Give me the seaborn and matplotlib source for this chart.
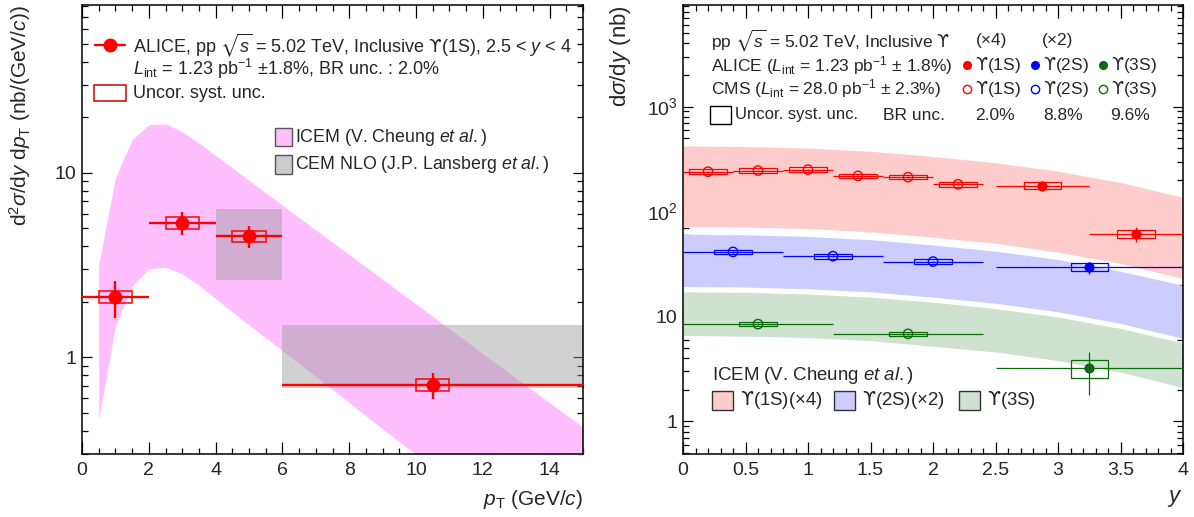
import math
import matplotlib
matplotlib.use("Agg")
import matplotlib.pyplot as plt
from matplotlib.patches import Rectangle
from matplotlib.lines import Line2D
from matplotlib.ticker import LogLocator, MultipleLocator, NullFormatter, FuncFormatter
import seaborn as sns

sns.set_theme(style="ticks")
plt.rcParams["font.family"] = ["Liberation Sans", "DejaVu Sans"]
plt.rcParams["mathtext.fontset"] = "custom"
plt.rcParams["mathtext.rm"] = "Liberation Sans"
plt.rcParams["mathtext.it"] = "Liberation Sans:italic"
plt.rcParams["mathtext.bf"] = "Liberation Sans:bold"
plt.rcParams["mathtext.sf"] = "DejaVu Sans"
plt.rcParams["mathtext.fallback"] = "stixsans"
plt.rcParams["axes.edgecolor"] = "black"
plt.rcParams["axes.linewidth"] = 1.1

# ------------------------------------------------------------
# Left panel: ALICE Upsilon(1S) vs pT
# ------------------------------------------------------------
pt_lo = [0, 2, 4, 6]
pt_hi = [2, 4, 6, 15]
pt_c = [1, 3, 5, 10.5]
xs_pt = [2.12, 5.35, 4.55, 0.71]
stat_pt_hi = [2.58, 6.10, 5.17, 0.826]
stat_pt_lo = [1.64, 4.60, 3.92, 0.598]
syst_pt_hi = [2.28, 5.74, 4.86, 0.767]
syst_pt_lo = [1.96, 4.96, 4.22, 0.660]

# ICEM band (V. Cheung et al.)
icem_pt = [0.5, 1.0, 1.5, 2.0, 2.5, 3.0, 3.5, 5, 7, 9, 11, 13, 15]
icem_pt_hi = [3.18, 9.4, 15.1, 18.2, 18.4, 16.7, 14.5, 9.1, 4.9, 2.65, 1.43, 0.77, 0.42]
icem_pt_lo = [0.46, 1.48, 2.43, 3.02, 3.07, 2.84, 2.46, 1.50, 0.79, 0.41, 0.217, 0.114, 0.06]

# CEM NLO boxes (J.P. Lansberg et al.)
cem_lo_edge = [4, 6]
cem_hi_edge = [6, 15]
cem_lo = [2.61, 0.682]
cem_hi = [6.39, 1.49]

# ------------------------------------------------------------
# Right panel: dsigma/dy for Upsilon(1S,2S,3S)
# ------------------------------------------------------------
cms1_y = [0.2, 0.6, 1.0, 1.4, 1.8, 2.2]
cms1_v = [240, 246, 251, 219, 213, 182]
cms2_y = [0.4, 1.2, 2.0]
cms2_v = [41.3, 37.6, 33.4]
cms3_y = [0.6, 1.8]
cms3_v = [8.47, 6.84]

alice1_y = [2.875, 3.625]
alice1_v = [177, 61.3]
alice1_stat_hi = [184, 71.2]
alice1_stat_lo = [170, 51.4]
alice1_syst_hi = [190, 67.0]
alice1_syst_lo = [164, 55.8]
alice2_y = [3.25]
alice2_v = [29.7]
alice2_stat_hi = [33.4]
alice2_stat_lo = [25.4]
alice2_syst_hi = [32.3]
alice2_syst_lo = [27.1]
alice3_y = [3.25]
alice3_v = [3.23]
alice3_stat_hi = [4.64]
alice3_stat_lo = [1.79]
alice3_syst_hi = [3.87]
alice3_syst_lo = [2.59]

# ICEM bands vs y
icem_y = [0, 0.5, 1.0, 1.5, 2.0, 2.5, 3.0, 3.5, 4.0]
icem1_hi = [422, 417, 403, 376, 335, 292, 243, 189, 137]
icem1_lo = [72, 71, 69, 64, 57, 50, 41, 32, 23]
icem2_hi = [61, 60, 58, 54, 48, 42, 35, 27, 19.8]
icem2_lo = [19.3, 19.1, 18.4, 17.2, 15.3, 13.4, 11.1, 8.6, 6.2]
icem3_hi = [17.2, 17.0, 16.4, 15.3, 13.7, 11.9, 9.9, 7.7, 5.6]
icem3_lo = [6.6, 6.5, 6.3, 5.9, 5.2, 4.6, 3.8, 2.95, 2.1]

RED = "#ff0000"
BLUE = "#0000ff"
GREEN = "#0b6b0b"
UPS = "$\\mathsf{\u03d2}$"


def style_axis(ax):
    ax.set_yscale("log")
    ax.tick_params(which="both", direction="in", top=True, right=True,
                   labelsize=14, color="black", width=0.9)
    ax.tick_params(axis="x", which="major", length=9, pad=6)
    ax.tick_params(axis="x", which="minor", length=4.5)
    ax.tick_params(axis="y", which="major", length=7.5, pad=4)
    ax.tick_params(axis="y", which="minor", length=4)
    ax.yaxis.set_major_locator(LogLocator(base=10))
    ax.yaxis.set_minor_locator(LogLocator(base=10, subs=range(2, 10)))
    ax.yaxis.set_minor_formatter(NullFormatter())


def draw_points(ax, x, v, xlo, xhi, slo, shi, blo, bhi, bw, color, filled,
                size, lw, box_lw):
    yerr = [[a - b for a, b in zip(v, slo)], [b - a for a, b in zip(v, shi)]]
    xerr = [[a - b for a, b in zip(x, xlo)], [b - a for a, b in zip(x, xhi)]]
    ax.errorbar(x, v, xerr=xerr, yerr=yerr, fmt="none", ecolor=color,
                elinewidth=lw, capsize=0, zorder=4)
    for xi, lo, hi in zip(x, blo, bhi):
        ax.add_patch(Rectangle((xi - bw, lo), 2 * bw, hi - lo, fill=False,
                               edgecolor=color, lw=box_lw, zorder=4))
    sns.scatterplot(x=x, y=v, ax=ax, s=size, marker="o",
                    color=color if filled else "none", edgecolor=color,
                    linewidth=1.0, zorder=5, legend=False)


fig = plt.figure(figsize=(11.94, 5.17), dpi=100)
axL = fig.add_axes([82 / 1194, 63 / 517, 501 / 1194, 449 / 517])
axR = fig.add_axes([683 / 1194, 63 / 517, 500 / 1194, 449 / 517])

# ---------------- left panel ----------------
style_axis(axL)
axL.fill_between(icem_pt, icem_pt_lo, icem_pt_hi, color="#ffbfff", lw=0, zorder=1)
for a, b, lo, hi in zip(cem_lo_edge, cem_hi_edge, cem_lo, cem_hi):
    axL.add_patch(Rectangle((a, lo), b - a, hi - lo, facecolor="#999999",
                            alpha=0.45, lw=0, zorder=2))
draw_points(axL, pt_c, xs_pt, pt_lo, pt_hi, stat_pt_lo, stat_pt_hi,
            syst_pt_lo, syst_pt_hi, 0.5, RED, True, 80, 1.7, 1.1)
axL.set_xlim(0, 15)
axL.set_ylim(0.30, 81)
axL.xaxis.set_major_locator(MultipleLocator(2))
axL.xaxis.set_minor_locator(MultipleLocator(0.5))
axL.yaxis.set_major_formatter(FuncFormatter(lambda v, p: f"{v:g}"))
axL.set_xlabel(r"$p_{\rm T}$ (GeV/$c$)", fontsize=15, loc="right")
axL.xaxis.set_label_coords(1.0, -0.075)
axL.set_ylabel(r"d$^{2}\sigma$/d$y$ d$p_{\rm T}$ (nb/(GeV/$c$))", fontsize=15, loc="top")
axL.yaxis.set_label_coords(-0.097, 1.0)

tL = axL.transAxes
fs = 13
axL.add_line(Line2D([0.026, 0.086], [0.911, 0.911], color=RED, lw=1.7, transform=tL))
axL.plot([0.056], [0.911], "o", color=RED, ms=9, transform=tL)
axL.text(0.102, 0.911, r"ALICE, pp $\sqrt{s}$ = 5.02 TeV, Inclusive " + UPS + r"(1S), 2.5 < $y$ < 4",
         transform=tL, fontsize=fs, va="center")
axL.text(0.102, 0.857, r"$L_{\rm int}$ = 1.23 pb$^{-1}$ $\pm$1.8%, BR unc. : 2.0%",
         transform=tL, fontsize=fs, va="center")
axL.add_patch(Rectangle((0.024, 0.786), 0.064, 0.036, fill=False, edgecolor="#cc0000",
                        lw=1.1, transform=tL))
axL.text(0.102, 0.804, "Uncor. syst. unc.", transform=tL, fontsize=fs, va="center")

axL.add_patch(Rectangle((0.385, 0.686), 0.034, 0.041, facecolor="#ffbfff",
                        edgecolor="#555555", lw=1.0, transform=tL))
axL.text(0.425, 0.706, r"ICEM (V. Cheung $et\ al.$)", transform=tL, fontsize=12.8, va="center")
axL.add_patch(Rectangle((0.385, 0.624), 0.034, 0.041, facecolor="#cccccc",
                        edgecolor="#555555", lw=1.0, transform=tL))
axL.text(0.425, 0.644, r"CEM NLO (J.P. Lansberg $et\ al.$)", transform=tL, fontsize=12.8, va="center")

# ---------------- right panel ----------------
style_axis(axR)
axR.fill_between(icem_y, icem1_lo, icem1_hi, color="#ffcccc", lw=0, zorder=1)
axR.fill_between(icem_y, icem2_lo, icem2_hi, color="#ccccff", lw=0, zorder=1)
axR.fill_between(icem_y, icem3_lo, icem3_hi, color="#cfe2cf", lw=0, zorder=1)

draw_points(axR, cms1_y, cms1_v, [y - 0.2 for y in cms1_y], [y + 0.2 for y in cms1_y],
            [v * 0.98 for v in cms1_v], [v * 1.02 for v in cms1_v],
            [v * 0.95 for v in cms1_v], [v * 1.05 for v in cms1_v], 0.15, RED, False, 45, 0.9, 0.9)
draw_points(axR, cms2_y, cms2_v, [y - 0.4 for y in cms2_y], [y + 0.4 for y in cms2_y],
            [v * 0.98 for v in cms2_v], [v * 1.02 for v in cms2_v],
            [v * 0.95 for v in cms2_v], [v * 1.05 for v in cms2_v], 0.15, BLUE, False, 45, 0.9, 0.9)
draw_points(axR, cms3_y, cms3_v, [y - 0.6 for y in cms3_y], [y + 0.6 for y in cms3_y],
            [v * 0.98 for v in cms3_v], [v * 1.02 for v in cms3_v],
            [v * 0.95 for v in cms3_v], [v * 1.05 for v in cms3_v], 0.15, GREEN, False, 45, 0.9, 0.9)
draw_points(axR, alice1_y, alice1_v, [y - 0.375 for y in alice1_y], [y + 0.375 for y in alice1_y],
            alice1_stat_lo, alice1_stat_hi, alice1_syst_lo, alice1_syst_hi, 0.15, RED, True, 40, 0.9, 0.9)
draw_points(axR, alice2_y, alice2_v, [2.5], [4.0],
            alice2_stat_lo, alice2_stat_hi, alice2_syst_lo, alice2_syst_hi, 0.15, BLUE, True, 40, 0.9, 0.9)
draw_points(axR, alice3_y, alice3_v, [2.5], [4.0],
            alice3_stat_lo, alice3_stat_hi, alice3_syst_lo, alice3_syst_hi, 0.15, GREEN, True, 40, 0.9, 0.9)

axR.set_xlim(0, 4)
axR.set_ylim(0.49, 9300)
axR.xaxis.set_major_locator(MultipleLocator(0.5))
axR.xaxis.set_minor_locator(MultipleLocator(0.1))
axR.xaxis.set_major_formatter(FuncFormatter(lambda v, p: f"{v:g}"))
axR.yaxis.set_major_formatter(FuncFormatter(
    lambda v, p: f"{v:g}" if v < 50 else r"$10^{%d}$" % round(math.log10(v))))
axR.set_xlabel(r"$y$", fontsize=16, loc="right")
axR.xaxis.set_label_coords(1.0, -0.075)
axR.set_ylabel(r"d$\sigma$/d$y$ (nb)", fontsize=16, loc="top")
axR.yaxis.set_label_coords(-0.1, 1.0)

tR = axR.transAxes
fs2 = 12.5
axR.text(0.056, 0.922, r"pp $\sqrt{s}$ = 5.02 TeV, Inclusive " + UPS, transform=tR, fontsize=fs2, va="center")
axR.text(0.618, 0.922, "(\u00d74)", transform=tR, fontsize=fs2, va="center", ha="center")
axR.text(0.75, 0.922, "(\u00d72)", transform=tR, fontsize=fs2, va="center", ha="center")
axR.text(0.056, 0.866, r"ALICE ($L_{\rm int}$ = 1.23 pb$^{-1}$ $\pm$ 1.8%)", transform=tR, fontsize=fs2, va="center")
axR.text(0.056, 0.813, r"CMS ($L_{\rm int}$ = 28.0 pb$^{-1}$ $\pm$ 2.3%)", transform=tR, fontsize=fs2, va="center")
for xd, c, lab in zip([0.568, 0.704, 0.84], [RED, BLUE, GREEN], ["1S", "2S", "3S"]):
    axR.plot([xd], [0.866], "o", color=c, ms=5.5, transform=tR)
    axR.plot([xd], [0.813], "o", mfc="none", mec=c, mew=1.0, ms=6, transform=tR)
    axR.text(xd + 0.016, 0.866, UPS + f"({lab})", transform=tR, fontsize=fs2, va="center")
    axR.text(xd + 0.016, 0.813, UPS + f"({lab})", transform=tR, fontsize=fs2, va="center")
axR.add_patch(Rectangle((0.054, 0.735), 0.042, 0.040, fill=False, edgecolor="black", lw=1.0, transform=tR))
axR.text(0.104, 0.757, "Uncor. syst. unc.", transform=tR, fontsize=fs2 - 0.5, va="center")
axR.text(0.40, 0.755, "BR unc.", transform=tR, fontsize=fs2, va="center")
for xc, lab in zip([0.624, 0.76, 0.894], ["2.0%", "8.8%", "9.6%"]):
    axR.text(xc, 0.755, lab, transform=tR, fontsize=fs2, va="center", ha="center")

fs3 = 13.4
axR.text(0.058, 0.174, r"ICEM (V. Cheung $et\ al.$)", transform=tR, fontsize=fs3, va="center")
for xb, c, lab in zip([0.058, 0.302, 0.552], ["#ffcccc", "#ccccff", "#cfe2cf"],
                      [UPS + "(1S)(\u00d74)", UPS + "(2S)(\u00d72)", UPS + "(3S)"]):
    axR.add_patch(Rectangle((xb, 0.099), 0.042, 0.042, facecolor=c, edgecolor="#333333",
                            lw=1.0, transform=tR))
    axR.text(xb + 0.056, 0.12, lab, transform=tR, fontsize=fs3, va="center")

fig.savefig("out.png", dpi=100)
